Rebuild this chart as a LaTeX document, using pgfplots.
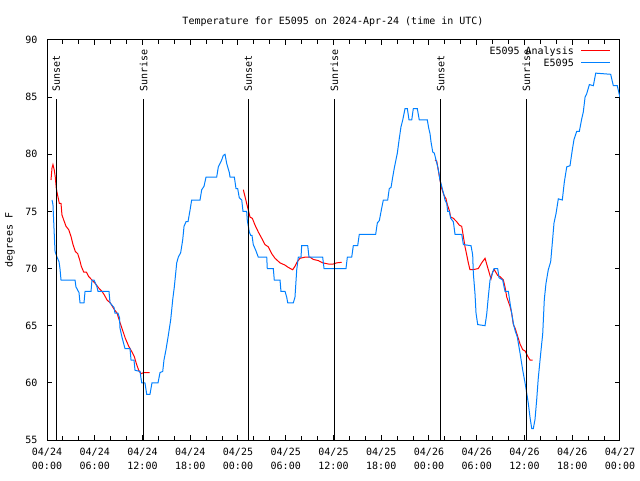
\documentclass[border=0pt]{standalone}
\usepackage{pgfplots}
\pgfplotsset{compat=1.18}
\usepackage{fontspec}
\setmainfont{DejaVu Sans Mono}

\definecolor{obsblue}{RGB}{0,128,255}

% hours after 04/24 00:00 UTC, degrees F
\pgfplotstableread{
h T
0.63 76
0.75 75.6
0.88 73.5
1.01 71.5
1.26 71
1.51 70.6
1.63 70
1.76 69
2.51 69
3.52 69
3.64 68.4
4.02 67.9
4.15 67
4.65 67
4.78 68
5.53 68
5.65 69
5.91 69
6.28 68.4
6.41 68
7.79 68
7.92 67
8.42 66.6
8.54 66.1
8.92 66.1
9.11 65.7
9.17 64.8
9.42 64
9.80 63
10.43 63
10.56 62
10.93 62
11.06 61.1
11.69 61
11.90 60
12.31 60
12.53 59
12.94 59
13.19 60
13.95 60
14.20 60.9
14.54 61
14.70 62
14.95 62.9
15.21 64
15.54 65.5
15.80 67.3
16.00 68.4
16.30 70.5
16.50 71
16.80 71.4
17.05 72.5
17.22 73.7
17.47 74.1
17.72 74.1
17.97 75.1
18.18 76
19.23 76
19.44 76.9
19.73 77.2
19.98 78
21.32 78
21.53 78.9
21.95 79.5
22.15 79.9
22.37 80
22.58 79.2
22.91 78.4
23.00 78
23.54 78
23.75 77
23.96 77
24.16 76.2
24.47 76
24.63 75
25.09 75
25.17 74.2
25.30 73.7
25.42 73.2
25.60 72.9
25.76 72.9
25.92 72.1
26.23 71.6
26.55 71
27.61 71
27.68 70
28.44 70
28.56 69
29.28 69
29.40 68
29.91 68
30.12 67.5
30.25 67
30.95 67
31.16 67.5
31.38 69.9
31.58 71
31.92 71
32.00 72
32.76 72
32.92 71
34.64 71
34.81 70
37.57 70
37.74 71
38.29 71
38.49 72
39.04 72
39.24 73
41.30 73
41.51 74
41.76 74.2
42.06 75.3
42.26 76
42.81 76
43.01 77
43.23 77.1
43.44 78
43.64 78.8
44.02 80.1
44.27 81.4
44.48 82.4
44.70 83
44.99 84
45.28 84
45.49 83
45.83 83
46.03 84
46.53 84
46.78 83
47.79 83
47.96 82.3
48.13 81.8
48.25 81.1
48.47 80.2
48.67 80.1
48.88 79.5
49.10 78.9
49.26 78.3
49.38 77.75
49.60 77.2
49.89 76.4
50.01 76
50.23 75.7
50.35 75
50.55 75
50.73 74.4
51.06 74.1
51.27 73
52.11 73
52.32 72.1
53.28 72
53.49 71.2
53.57 69.6
53.78 67.8
53.91 66.1
54.12 65.1
55.04 65
55.25 66
55.45 67.5
55.67 69
55.96 69.6
56.17 70
56.63 70
56.80 69.2
57.26 69
57.55 68
57.97 68
58.18 67
58.39 66.1
58.60 65.2
58.81 64.6
59.10 64
59.44 62.6
59.78 61.1
60.07 60
60.28 59.1
60.48 58.2
60.69 57
60.91 56
61.11 56
61.32 56.8
61.53 58.5
61.73 60.4
62.04 62.6
62.29 64.3
62.49 67.3
62.70 68.7
62.99 69.9
63.29 70.6
63.49 72.2
63.71 74
63.96 74.8
64.25 76.1
64.75 76
65.01 77.6
65.31 78.9
65.72 79
66.01 80.4
66.22 81.3
66.56 82
66.89 82
67.19 83.1
67.39 83.7
67.61 85
67.82 85.3
68.15 86.1
68.65 86
68.95 87.1
70.83 87
71.16 86
71.66 86
71.92 85.2
72.00 85
}\obs

\pgfplotstableread{
h T
0.50 77.75
0.63 78.8
0.75 79.1
0.92 78.6
1.04 78
1.17 77
1.34 76.4
1.55 75.7
1.76 75.7
1.88 74.7
2.10 74.25
2.39 73.7
2.73 73.4
3.02 72.8
3.27 72.1
3.56 71.5
3.86 71.3
4.11 70.75
4.31 70.2
4.61 69.7
4.94 69.7
5.24 69.3
5.65 69
6.07 68.7
6.50 68.3
6.91 68
7.20 67.7
7.54 67.25
7.95 67
8.38 66.5
8.80 66.1
9.21 65.2
9.55 64.5
9.84 63.9
10.27 63.2
10.68 62.7
10.97 62.3
11.22 61.7
11.52 61.1
11.81 60.8
12.15 60.9
12.91 60.9
13.00 nan
24.67 76.9
24.88 76.3
25.09 75.7
25.30 75.1
25.51 74.5
25.80 74.4
26.14 73.8
26.55 73.2
26.98 72.65
27.39 72.1
27.81 71.9
28.24 71.3
28.65 70.9
29.28 70.5
29.91 70.3
30.32 70.1
30.87 69.9
31.16 70.2
31.45 70.6
31.79 70.9
32.42 71
33.05 71
33.46 70.8
34.09 70.7
34.64 70.5
35.35 70.4
35.98 70.4
36.40 70.5
37.03 70.55
37.10 nan
48.76 79.5
48.97 79.4
49.17 78.6
49.38 77.75
49.60 77
49.89 76.4
50.14 76.1
50.30 75.6
50.55 75.1
50.73 74.5
51.06 74.4
51.48 74.1
51.81 73.8
52.11 73.7
52.32 72.8
52.53 71.9
52.74 71.2
52.94 70.5
53.15 69.9
53.49 69.9
54.19 70
54.62 70.5
55.04 70.9
55.33 70.2
55.58 69.6
55.79 69.1
56.00 69.7
56.21 69.9
56.63 69.4
56.92 69.3
57.34 69
57.55 68.4
57.77 67.5
58.18 66.7
58.39 66.1
58.60 65.1
58.81 64.8
59.22 63.9
59.44 63.4
59.78 62.9
60.07 62.8
60.35 62.4
60.69 62
61.03 62
}\ana

\begin{document}
\begin{tikzpicture}[x=1pt, y=1pt, font=\fontsize{10}{13.5}\selectfont]
\useasboundingbox (0,0) rectangle (640,480);
\begin{axis}[
  at={(47pt,40pt)}, anchor=south west,
  scale only axis, width=573pt, height=400pt,
  xmin=0, xmax=72, ymin=55, ymax=90,
  xtick={0,6,...,72},
  xticklabels={{04/24\\00:00},{04/24\\06:00},{04/24\\12:00},{04/24\\18:00},
    {04/25\\00:00},{04/25\\06:00},{04/25\\12:00},{04/25\\18:00},
    {04/26\\00:00},{04/26\\06:00},{04/26\\12:00},{04/26\\18:00},{04/27\\00:00}},
  minor x tick num=2,
  ytick={55,60,...,90},
  tick align=inside,
  major tick length=5pt, minor tick length=4pt,
  every tick/.style={black, line width=1pt},
  axis line style={black, line width=1pt},
  xticklabel style={align=center, yshift=-5pt},
  yticklabel style={xshift=-6pt},
  /pgf/number format/assume math mode=true,
]
\addplot[red, line width=1pt, unbounded coords=jump] table[x=h, y=T] {\ana};
\addplot[obsblue, line width=1pt] table[x=h, y=T] {\obs};
\draw[black, line width=1pt] (axis cs:1.17,55) -- (axis cs:1.17,84.84);
\draw[black, line width=1pt] (axis cs:12.15,55) -- (axis cs:12.15,84.84);
\draw[black, line width=1pt] (axis cs:25.3,55) -- (axis cs:25.3,84.84);
\draw[black, line width=1pt] (axis cs:36.1,55) -- (axis cs:36.1,84.84);
\draw[black, line width=1pt] (axis cs:49.47,55) -- (axis cs:49.47,84.84);
\draw[black, line width=1pt] (axis cs:60.23,55) -- (axis cs:60.23,84.84);
\node[rotate=90, anchor=west, inner sep=0pt] at (axis cs:1.17,85.45) {Sunset};
\node[rotate=90, anchor=west, inner sep=0pt] at (axis cs:12.15,85.45) {Sunrise};
\node[rotate=90, anchor=west, inner sep=0pt] at (axis cs:25.3,85.45) {Sunset};
\node[rotate=90, anchor=west, inner sep=0pt] at (axis cs:36.1,85.45) {Sunrise};
\node[rotate=90, anchor=west, inner sep=0pt] at (axis cs:49.47,85.45) {Sunset};
\node[rotate=90, anchor=west, inner sep=0pt] at (axis cs:60.23,85.45) {Sunrise};
\end{axis}
% key
\node[anchor=base east, inner sep=0pt] at (574,425.7) {E5095 Analysis};
\draw[red, line width=1pt] (581,429.5) -- (610,429.5);
\node[anchor=base east, inner sep=0pt] at (574,413.3) {E5095};
\draw[obsblue, line width=1pt] (581,417.5) -- (610,417.5);
\node at (333,458) {Temperature for E5095 on 2024-Apr-24 (time in UTC)};
\node[rotate=90] at (10,240) {degrees F};
\end{tikzpicture}
\end{document}
